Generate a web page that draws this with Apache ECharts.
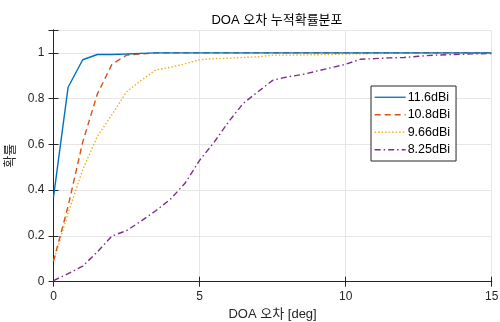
<!DOCTYPE html>
<html><head><meta charset="utf-8">
<script src="https://cdn.jsdelivr.net/npm/echarts@6/dist/echarts.min.js"></script>
<style>html,body{margin:0;padding:0;background:#fff}#c{width:500px;height:322px}</style>
</head><body><div id="c"></div>
<script>
const xValues = [0,0.5,1,1.5,2,2.5,3,3.5,4,4.5,5,5.5,6,6.5,7,7.5,8,8.5,9,9.5,10,10.5,11,11.5,12,12.5,13,13.5,14,14.5,15];
const seriesNames = ['11.6dBi','10.8dBi','9.66dBi','8.25dBi'];
const s116 = [0.37,0.85,0.97,0.993,0.993,0.995,0.998,1,1,1,1,1,1,1,1,1,1,1,1,1,1,1,1,1,1,1,1,1,1,1,1];
const s108 = [0.09,0.33,0.61,0.82,0.95,0.99,0.995,1,1,1,1,1,1,1,1,1,1,1,1,1,1,1,1,1,1,1,1,1,1,1,1];
const s966 = [0.09,0.30,0.49,0.635,0.73,0.83,0.88,0.925,0.937,0.952,0.97,0.975,0.977,0.98,0.983,0.99,0.99,0.991,0.992,0.993,0.995,0.996,0.997,0.998,0.999,1,1,1,1,1,1];
const s825 = [0.005,0.035,0.068,0.13,0.2,0.223,0.265,0.31,0.36,0.43,0.53,0.61,0.70,0.78,0.83,0.88,0.895,0.905,0.92,0.935,0.95,0.972,0.975,0.978,0.98,0.985,0.99,0.992,0.994,0.996,0.997];
const xTicks = [0,5,10,15];
const yTicks = [0,0.2,0.4,0.6,0.8,1];

const font = '"Liberation Sans", Arial, "Noto Sans CJK KR", sans-serif';
const colors = ['#0072BD','#D95319','#EDB120','#7E2F8E'];
const dashes = ['solid',[6,4],[1.5,2],[6,3,1.5,3]];
const allData = [s116,s108,s966,s825];

const chart = echarts.init(document.getElementById('c'));
const axisLine = {show:true,lineStyle:{color:'#262626',width:1}};
chart.setOption({
  animation:false,
  textStyle:{fontFamily:font},
  title:{text:'DOA 오차 누적확률분포',left:272,top:9,textAlign:'center',
    textStyle:{fontSize:13,fontWeight:'normal',color:'#000',fontFamily:font}},
  grid:{left:53.5,right:8.3,top:30,bottom:40.3,containLabel:false,outerBoundsMode:'none'},
  legend:{
    orient:'vertical',left:371,top:86,
    backgroundColor:'#fff',borderColor:'#262626',borderWidth:1,
    padding:[5,6,5,3],itemGap:5,itemWidth:31,itemHeight:10,
    itemStyle:{opacity:0},
    lineStyle:{width:1.3},
    textStyle:{fontSize:12.5,color:'#000',fontFamily:font,padding:[0,0,0,-3]},
    data:seriesNames,
  },
  xAxis:[{
    type:'value',min:0,max:15,interval:5,
    name:'DOA 오차 [deg]',nameLocation:'middle',nameGap:26,
    nameTextStyle:{fontSize:13,color:'#262626',fontFamily:font},
    axisLine:axisLine,
    axisTick:{show:true,inside:true,length:5,lineStyle:{color:'#262626'}},
    axisLabel:{fontSize:12,color:'#262626',margin:9,fontFamily:font},
    splitLine:{show:true,lineStyle:{color:'#e6e6e6',width:1}}
  },{
    type:'value',position:'top',min:0,max:15,interval:5,
    axisLine:axisLine,
    axisTick:{show:true,inside:true,length:5,lineStyle:{color:'#262626'}},
    axisLabel:{show:false},splitLine:{show:false}
  }],
  yAxis:[{
    type:'value',min:0,max:1.1,interval:0.2,
    name:'확률',nameLocation:'middle',nameGap:35,
    nameTextStyle:{fontSize:13,color:'#262626',fontFamily:font},
    axisLine:axisLine,
    axisTick:{show:true,inside:true,length:5,lineStyle:{color:'#262626'}},
    axisLabel:{fontSize:12,color:'#262626',margin:9,fontFamily:font,
      formatter:v=>{const t=yTicks.find(k=>Math.abs(k-v)<1e-6);return t===undefined?'':String(t);}},
    splitLine:{show:true,lineStyle:{color:'#e6e6e6',width:1}}
  },{
    type:'value',position:'right',min:0,max:1.1,interval:0.2,
    axisLine:axisLine,
    axisTick:{show:true,inside:true,length:5,lineStyle:{color:'#262626'}},
    axisLabel:{show:false},splitLine:{show:false}
  }],
  series:seriesNames.map((n,i)=>({
    name:n,type:'line',symbol:'none',xAxisIndex:0,yAxisIndex:0,
    data:xValues.map((x,j)=>[x,allData[i][j]]),
    itemStyle:{color:colors[i]},
    lineStyle:{color:colors[i],width:1.4,type:dashes[i]},
    z:10-i
  }))
});
</script></body></html>
